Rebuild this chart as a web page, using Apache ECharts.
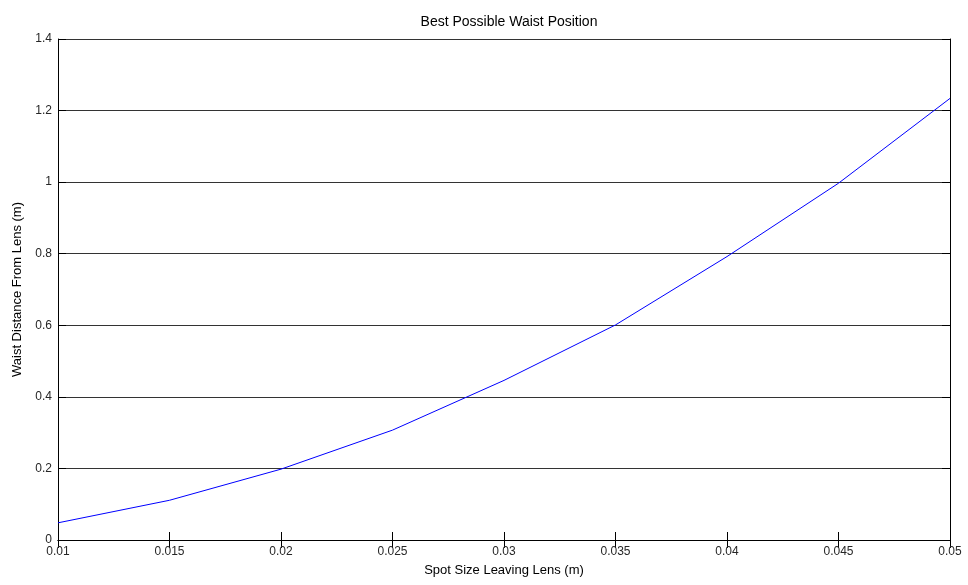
<!DOCTYPE html>
<html>
<head>
<meta charset="utf-8">
<script src="https://cdn.jsdelivr.net/npm/echarts@6/dist/echarts.min.js"></script>
<style>
  html, body { margin: 0; padding: 0; background: #fff; }
  #chart { width: 968px; height: 585px; }
</style>
</head>
<body>
<div id="chart"></div>
<script>
  // spot size leaving lens (m)
  var spotSize = [0.01, 0.015, 0.02, 0.025, 0.03, 0.035, 0.04, 0.045, 0.05];
  // waist distance from lens (m)
  var waistDist = [0.048, 0.111, 0.198, 0.307, 0.446, 0.601, 0.792, 0.997, 1.234];

  var points = spotSize.map(function (x, i) { return [x, waistDist[i]]; });

  var labelFont = { fontFamily: 'Liberation Sans, Arial, sans-serif', fontSize: 12, color: '#262626' };
  var boxLine = { show: true, lineStyle: { color: '#000', width: 1 } };
  var tickIn = { show: true, inside: true, length: 8, lineStyle: { color: '#000', width: 1 } };
  function fmt(v) { return String(parseFloat(v.toFixed(4))); }

  var myChart = echarts.init(document.getElementById('chart'));
  myChart.setOption({
    animation: false,
    backgroundColor: '#fff',
    title: {
      text: 'Best Possible Waist Position',
      left: 504,
      top: 10,
      textAlign: 'center',
      textStyle: { fontFamily: 'Liberation Sans, Arial, sans-serif', fontSize: 14, fontWeight: 'normal', color: '#000' }
    },
    grid: { left: 58, right: 18, top: 39, bottom: 45 },
    xAxis: [
      {
        type: 'value', min: 0.01, max: 0.05, interval: 0.005,
        name: 'Spot Size Leaving Lens (m)', nameLocation: 'middle', nameGap: 24,
        nameTextStyle: { fontFamily: 'Liberation Sans, Arial, sans-serif', fontSize: 13, color: '#000' },
        axisLine: boxLine, axisTick: tickIn,
        axisLabel: Object.assign({ margin: 6, formatter: fmt }, labelFont),
        splitLine: { show: false }
      },
      {
        type: 'value', position: 'top', min: 0.01, max: 0.05, interval: 0.005,
        axisLine: boxLine, axisTick: tickIn, axisLabel: { show: false }, splitLine: { show: false }
      }
    ],
    yAxis: [
      {
        type: 'value', min: 0, max: 1.4, interval: 0.2,
        name: 'Waist Distance From Lens (m)', nameLocation: 'middle', nameGap: 34,
        nameTextStyle: { fontFamily: 'Liberation Sans, Arial, sans-serif', fontSize: 13, color: '#000' },
        axisLine: boxLine, axisTick: tickIn,
        axisLabel: Object.assign({ margin: 6, formatter: fmt }, labelFont),
        splitLine: { show: true, lineStyle: { color: '#333', width: 1 } }
      },
      {
        type: 'value', position: 'right', min: 0, max: 1.4, interval: 0.2,
        axisLine: boxLine, axisTick: tickIn, axisLabel: { show: false }, splitLine: { show: false }
      }
    ],
    series: [
      {
        type: 'line',
        data: points,
        showSymbol: false,
        lineStyle: { color: '#0000ff', width: 1 },
        itemStyle: { color: '#0000ff' }
      }
    ]
  });

  window.addEventListener('resize', function () { myChart.resize(); });
</script>
</body>
</html>
